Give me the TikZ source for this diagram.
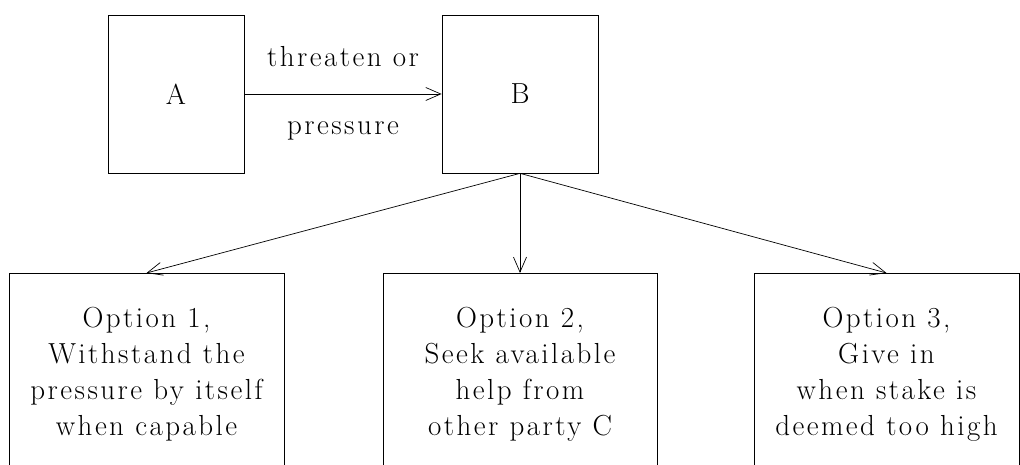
\documentclass[tikz,border=0pt]{standalone}
\usepackage{fontspec}
\setmainfont{Latin Modern Roman}[LetterSpace=8.5]
\usetikzlibrary{arrows.meta,positioning}

\tikzset{
	party/.style={draw, thin, minimum width=#1, minimum height=3.16cm, inner sep=0pt},
	option/.style={draw, thin, minimum width=#1, minimum height=4.04cm, anchor=north,
		align=center, inner sep=0pt, font=\fontsize{16.5}{20.5}\selectfont},
	flow/.style={-{Straight Barb[length=0.3cm, width=0.26cm]}, thin}
}

\begin{document}
\begin{tikzpicture}[font=\fontsize{16.5}{20.5}\selectfont]

		% === page bounds ===
		\def\wmax{20.4}	\def\hmax{9.3}
		\useasboundingbox (0,0) rectangle (\wmax,\hmax);
		\clip (0,0) rectangle (\wmax,\hmax);

		% === Parties ===
		\node[party=2.72cm] (A) at (3.52,7.42) {A};
		\node[party=3.12cm] (B) at (10.4,7.42) {B};

		% === Options of B ===
		\node[option=5.5cm]  (opt1) at (2.93,3.84)  {Option 1,\\Withstand the\\pressure by itself\\when capable};
		\node[option=5.48cm] (opt2) at (10.4,3.84)  {Option 2,\\Seek available\\help from\\other party C};
		\node[option=5.3cm]  (opt3) at (17.73,3.84) {Option 3,\\Give in\\when stake is\\deemed too high};

		% === Connectors ===
		\draw[flow] (A.east) -- node[above=0.42cm] (lbltop) {threaten or}
			node[below=0.42cm] (lblbot) {pressure} (B.west);
		\foreach \o in {opt1, opt2, opt3} {
			\draw[flow] (B.south) -- (\o.north);		% B to option
		}
	\end{tikzpicture}
\end{document}
